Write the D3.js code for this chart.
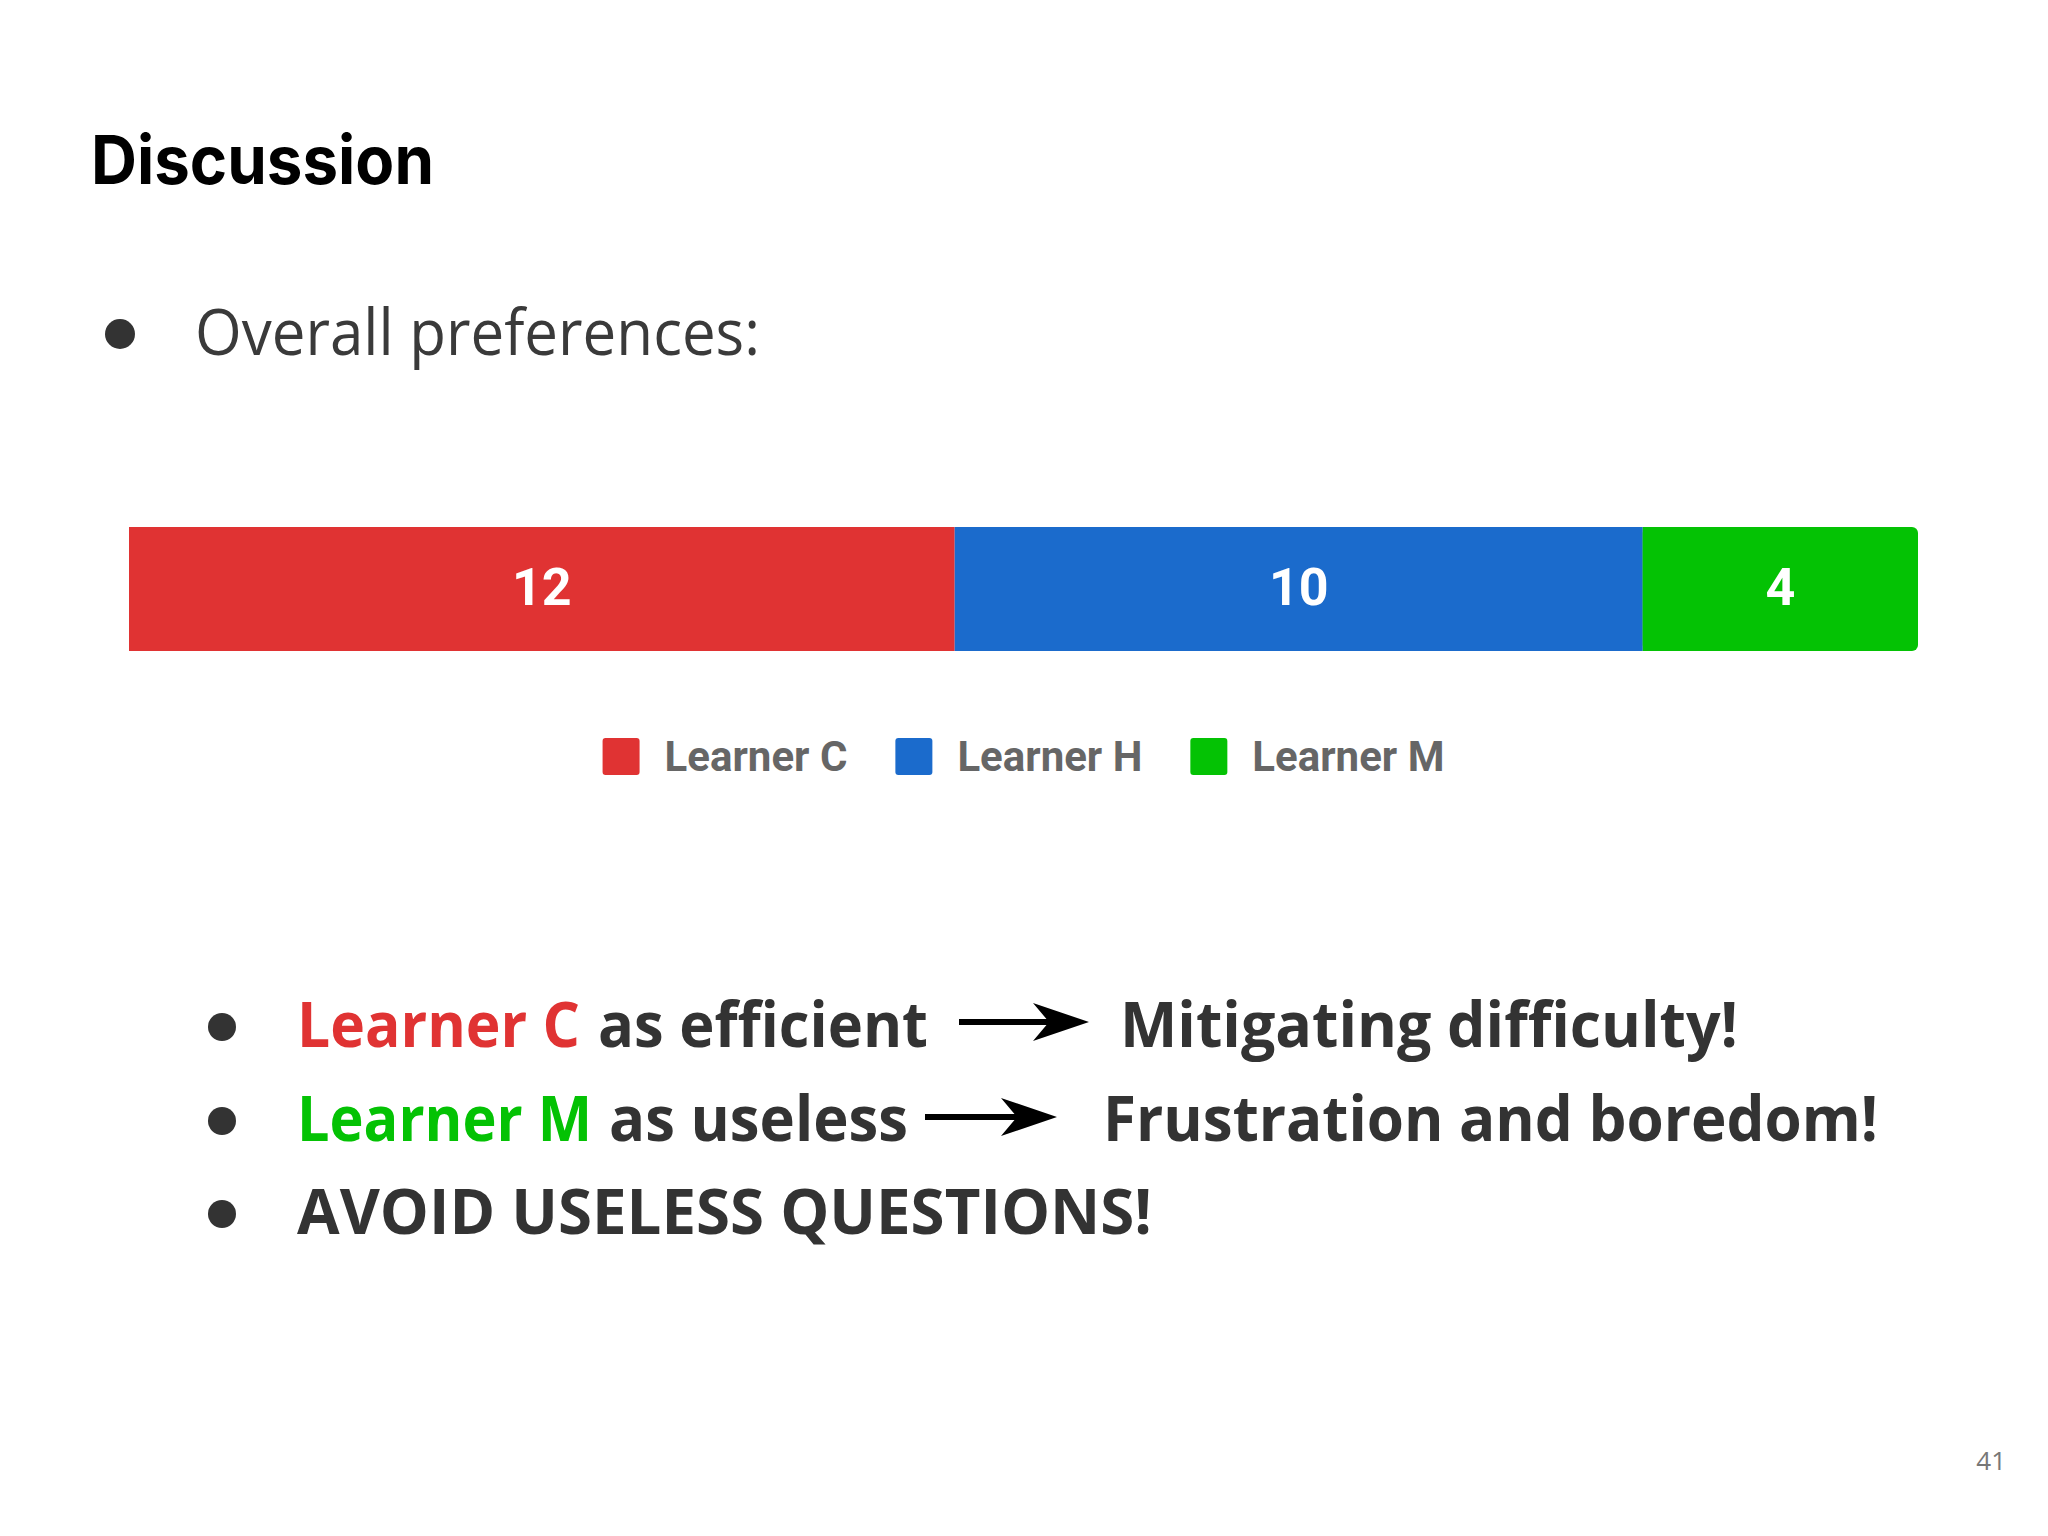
<!DOCTYPE html>
<html>
<head>
<meta charset="utf-8">
<script src="https://cdn.jsdelivr.net/npm/d3@7"></script>
<style>
  html, body { margin: 0; padding: 0; background: #ffffff; }
  svg { display: block; }
</style>
</head>
<body>
<script>
// ---- data ----
const categories = ["Learner C", "Learner H", "Learner M"];
const values = [12, 10, 4];
const seriesColors = ["#e03333", "#1b6bcc", "#04c204"];
const titleText = "Discussion";
const subBullet = "Overall preferences:";
const pageNumber = "41";

const W = 2048, H = 1536;
const svg = d3.select("body").append("svg").attr("width", W).attr("height", H);
svg.append("rect").attr("width", W).attr("height", H).attr("fill", "#ffffff");

// Title
svg.append("text").attr("x", 91).attr("y", 184)
  .attr("font-family", "Inter, 'Open Sans', sans-serif").attr("font-weight", 700)
  .attr("font-size", 67).attr("fill", "#000")
  .attr("textLength", 343).attr("lengthAdjust", "spacingAndGlyphs")
  .text(titleText);

// first bullet
svg.append("circle").attr("cx", 120).attr("cy", 334).attr("r", 15).attr("fill", "#333");
svg.append("text").attr("x", 195).attr("y", 355)
  .attr("font-family", "'Open Sans', sans-serif").attr("font-weight", 400)
  .attr("font-size", 64).attr("fill", "#3a3a3a")
  .attr("textLength", 565).attr("lengthAdjust", "spacingAndGlyphs")
  .text(subBullet);

// ---- stacked bar ----
const total = d3.sum(values);
const x = d3.scaleLinear().domain([0, total]).range([129, 1918]);
const barTop = 527, barH = 124;
let acc = 0;
const segs = values.map((v, i) => { const s = {v, i, x0: acc, x1: acc + v}; acc += v; return s; });

const bar = svg.append("g");
segs.forEach((s, k) => {
  const last = k === segs.length - 1;
  if (last) {
    bar.append("rect").attr("x", x(s.x0)).attr("y", barTop)
      .attr("width", x(s.x1) - x(s.x0)).attr("height", barH)
      .attr("rx", 6).attr("fill", seriesColors[s.i]);
    bar.append("rect").attr("x", x(s.x0)).attr("y", barTop)
      .attr("width", x(s.x1) - x(s.x0) - 12).attr("height", barH)
      .attr("fill", seriesColors[s.i]);
  } else {
    bar.append("rect").attr("x", x(s.x0)).attr("y", barTop)
      .attr("width", x(s.x1) - x(s.x0)).attr("height", barH)
      .attr("fill", seriesColors[s.i]);
  }
  bar.append("text").attr("x", (x(s.x0) + x(s.x1)) / 2).attr("y", 605)
    .attr("text-anchor", "middle")
    .attr("font-family", "Roboto, sans-serif").attr("font-weight", 700)
    .attr("font-size", 52).attr("fill", "#ffffff")
    .text(s.v);
});

// ---- legend ----
const legend = svg.append("g");
const sq = 37, gapSq = 25, gapItem = 48, legY = 738;
const items = categories.map((c, i) => {
  const g = legend.append("g");
  g.append("rect").attr("x", 0).attr("y", legY).attr("width", sq).attr("height", sq)
    .attr("rx", 3).attr("fill", seriesColors[i]);
  const t = g.append("text").attr("x", sq + gapSq).attr("y", 771)
    .attr("font-family", "Roboto, sans-serif").attr("font-weight", 700)
    .attr("font-size", 42).attr("fill", "#666666").text(c);
  return {g, w: sq + gapSq + t.node().getComputedTextLength()};
});
const totalLeg = d3.sum(items, d => d.w) + gapItem * (items.length - 1);
let lx = (x.range()[0] + x.range()[1]) / 2 - totalLeg / 2;
items.forEach(it => { it.g.attr("transform", `translate(${lx},0)`); lx += it.w + gapItem; });

// ---- bottom bullets ----
const bodyFont = "'Open Sans', sans-serif";
const dark = "#333333";
function txt(xp, yp, s, len, color) {
  svg.append("text").attr("x", xp).attr("y", yp)
    .attr("font-family", bodyFont).attr("font-weight", 700)
    .attr("font-size", 62).attr("fill", color)
    .attr("textLength", len).attr("lengthAdjust", "spacingAndGlyphs")
    .text(s);
}
function arrow(x1, x2, y) {
  svg.append("line").attr("x1", x1).attr("x2", x2 - 30).attr("y1", y).attr("y2", y)
    .attr("stroke", "#000").attr("stroke-width", 6);
  svg.append("path")
    .attr("d", `M${x2},${y} L${x2 - 56},${y - 19} L${x2 - 40},${y} L${x2 - 56},${y + 19} Z`)
    .attr("fill", "#000");
}
const bulletX = 222;
[1027, 1121, 1214].forEach(cy => svg.append("circle").attr("cx", bulletX).attr("cy", cy).attr("r", 14).attr("fill", dark));

txt(297, 1047, "Learner C", 283, "#e03333");
txt(598, 1047, "as efficient", 330, dark);
arrow(959, 1089, 1022);
txt(1120, 1047, "Mitigating difficulty!", 618, dark);

txt(297, 1141, "Learner M", 295, "#04c204");
txt(609, 1141, "as useless", 299, dark);
arrow(925, 1057, 1117);
txt(1103, 1141, "Frustration and boredom!", 775, dark);

txt(297, 1234, "AVOID USELESS QUESTIONS!", 855, dark);

// page number
svg.append("text").attr("x", 2006).attr("y", 1470).attr("text-anchor", "end")
  .attr("font-family", "'Open Sans', sans-serif").attr("font-size", 26)
  .attr("fill", "#777777").text(pageNumber);
</script>
</body>
</html>
